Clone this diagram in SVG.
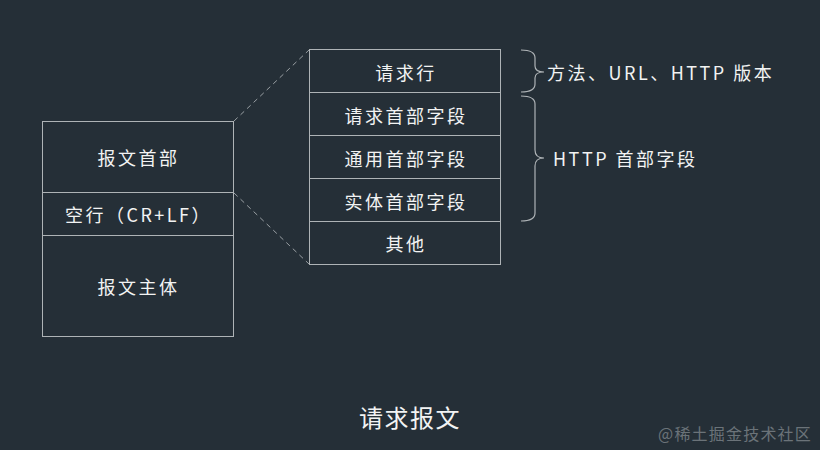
<svg xmlns="http://www.w3.org/2000/svg" width="820" height="450" viewBox="0 0 820 450">
<style>
.box{fill:none;stroke:#aeb3b6;stroke-width:1}
.t{font-family:"Noto Sans CJK SC","Liberation Sans",sans-serif;fill:#f2f3f3;text-anchor:middle;dominant-baseline:central;font-size:18px;letter-spacing:2.5px}
.l{text-anchor:start}
.dash{fill:none;stroke:#9aa0a4;stroke-width:1;stroke-dasharray:5,4}
.brace{fill:none;stroke:#aeb3b6;stroke-width:1.2}
</style>
<rect width="820" height="450" fill="#252f37"/>
<g id="message">
<rect class="box" x="42.5" y="121.5" width="191" height="215"/>
<line class="box" x1="42.5" y1="192.5" x2="233.5" y2="192.5"/>
<line class="box" x1="42.5" y1="235.5" x2="233.5" y2="235.5"/>
<text class="t" x="138.5" y="157">报文首部</text>
<text class="t" x="138.5" y="214">空行（CR+LF）</text>
<text class="t" x="138.5" y="286">报文主体</text>
</g>
<g id="header">
<rect class="box" x="309.5" y="49.5" width="191" height="215"/>
<line class="box" x1="309.5" y1="92.5" x2="500.5" y2="92.5"/>
<line class="box" x1="309.5" y1="135.5" x2="500.5" y2="135.5"/>
<line class="box" x1="309.5" y1="178.5" x2="500.5" y2="178.5"/>
<line class="box" x1="309.5" y1="221.5" x2="500.5" y2="221.5"/>
<text class="t" x="406" y="72">请求行</text>
<text class="t" x="406" y="115">请求首部字段</text>
<text class="t" x="406" y="158">通用首部字段</text>
<text class="t" x="406" y="201">实体首部字段</text>
<text class="t" x="406" y="243">其他</text>
</g>
<g id="connectors">
<line class="dash" x1="234" y1="121" x2="309" y2="50"/>
<line class="dash" x1="234" y1="193" x2="309" y2="264"/>
<path class="brace" d="M521,50 Q535,50 535,58 L535,66 Q535,72 544,72 Q535,72 535,78 L535,84 Q535,92 521,92"/>
<path class="brace" d="M521,96 Q535,96 535,104 L535,150 Q535,158 544,158 Q535,158 535,166 L535,213 Q535,221 521,221"/>
</g>
<g id="labels">
<text class="t l" x="547" y="72">方法、URL、HTTP 版本</text>
<text class="t l" x="553" y="158">HTTP 首部字段</text>
</g>
<text class="t" x="410" y="416" style="font-size:24px;letter-spacing:1.5px">请求报文</text>
<text class="t" x="812" y="433" style="font-size:16px;letter-spacing:1.2px;fill:#6b7379;text-anchor:end">@稀土掘金技术社区</text>
</svg>
